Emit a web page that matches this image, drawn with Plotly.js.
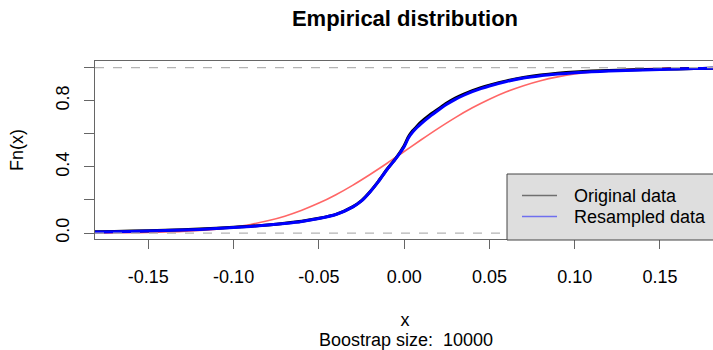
<!DOCTYPE html>
<html>
<head>
<meta charset="utf-8">
<script src="https://cdn.plot.ly/plotly-3.0.1.min.js"></script>
<style>
html,body{margin:0;padding:0;overflow:hidden;background:#fff;}
#chart{width:720px;height:350px;}
</style>
</head>
<body>
<div id="chart"></div>
<script>
// Fitted normal CDF (red)
const normX = [-0.19,-0.18,-0.17,-0.16,-0.15,-0.14,-0.13,-0.12,-0.11,-0.10,-0.09,-0.08,-0.07,-0.06,-0.05,-0.04,-0.03,-0.02,-0.01,0.00,0.01,0.02,0.03,0.04,0.05,0.06,0.07,0.08,0.09,0.10,0.11,0.12,0.13,0.14,0.15,0.16,0.17,0.18,0.19];
const normY = [0.0003,0.0006,0.0011,0.002,0.0035,0.0059,0.0096,0.0154,0.0238,0.0357,0.052,0.074,0.102,0.138,0.181,0.232,0.290,0.354,0.422,0.493,0.564,0.633,0.698,0.757,0.809,0.854,0.891,0.921,0.944,0.961,0.974,0.983,0.989,0.9935,0.996,0.9977,0.9987,0.9993,0.9996];

// Original data ECDF (black)
const origX = [-0.19,-0.18,-0.16,-0.14,-0.12,-0.10,-0.09,-0.08,-0.07,-0.06,-0.05,-0.04,-0.03,-0.025,-0.02,-0.015,-0.01,-0.005,0.0,0.0025,0.005,0.0075,0.01,0.015,0.02,0.025,0.03,0.035,0.04,0.045,0.05,0.06,0.07,0.08,0.09,0.10,0.11,0.12,0.13,0.14,0.15,0.16,0.17,0.18,0.19];
const origY = [0.007,0.008,0.012,0.017,0.024,0.035,0.041,0.049,0.059,0.071,0.089,0.113,0.160,0.196,0.250,0.314,0.386,0.450,0.528,0.582,0.618,0.646,0.672,0.714,0.750,0.786,0.816,0.840,0.861,0.879,0.894,0.920,0.940,0.955,0.966,0.974,0.980,0.983,0.986,0.988,0.990,0.992,0.994,0.996,0.998];

// Resampled data ECDF (blue)
const resX = [-0.19,-0.18,-0.16,-0.14,-0.12,-0.10,-0.09,-0.08,-0.07,-0.06,-0.05,-0.04,-0.03,-0.025,-0.02,-0.015,-0.01,-0.005,0.0,0.0025,0.005,0.0075,0.01,0.015,0.02,0.025,0.03,0.035,0.04,0.045,0.05,0.06,0.07,0.08,0.09,0.10,0.11,0.12,0.13,0.14,0.15,0.16,0.17,0.18,0.19];
const resY = [0.006,0.007,0.010,0.015,0.022,0.033,0.040,0.048,0.058,0.070,0.088,0.112,0.158,0.194,0.248,0.312,0.384,0.448,0.522,0.575,0.610,0.638,0.662,0.704,0.742,0.778,0.808,0.833,0.855,0.873,0.889,0.916,0.937,0.951,0.961,0.969,0.975,0.979,0.982,0.985,0.988,0.991,0.994,0.996,0.998];

const yTickVals = [0,0.2,0.4,0.6,0.8,1.0];
const yTickText = ["0.0","","0.4","","0.8",""];
const xTickVals = [-0.15,-0.10,-0.05,0.00,0.05,0.10,0.15];
const xTickText = ["-0.15","-0.10","-0.05","0.00","0.05","0.10","0.15"];
const legendLabels = ["Original data","Resampled data"];

const FONT = "Liberation Sans, Arial, sans-serif";

const traces = [
  {x: normX, y: normY, type:'scatter', mode:'lines', line:{color:'rgba(255,0,0,0.6)', width:1.6, shape:'spline'}, showlegend:false, hoverinfo:'skip'},
  {x: origX, y: origY, type:'scatter', mode:'lines', line:{color:'#000000', width:3, shape:'spline', smoothing:0.6}, showlegend:false, hoverinfo:'skip'},
  {x: resX, y: resY, type:'scatter', mode:'lines', line:{color:'#0000ff', width:3, shape:'spline', smoothing:0.6}, showlegend:false, hoverinfo:'skip'}
];

const W = 720, H = 350, ML = 95, MR = 5, MT = 61, MB = 111;
const pw = W - ML - MR, ph = H - MT - MB;
function px(x){ return (x - ML) / pw; }
function py(y){ return (H - MB - y) / ph; }

const shapes = [
  {type:'line', xref:'paper', yref:'y', x0:0, x1:1, y0:0, y1:0, line:{color:'#b4b4b4', width:1.3, dash:'dash'}},
  {type:'line', xref:'paper', yref:'y', x0:0, x1:1, y0:1, y1:1, line:{color:'#b4b4b4', width:1.3, dash:'dash'}},
  // legend box
  {type:'rect', xref:'paper', yref:'paper', x0:px(507), x1:px(730), y0:py(240), y1:py(174), fillcolor:'#dedede', line:{color:'#444', width:1}, layer:'above'},
  {type:'line', xref:'paper', yref:'paper', x0:px(522), x1:px(557), y0:py(195.5), y1:py(195.5), line:{color:'rgba(0,0,0,0.5)', width:1.6}, layer:'above'},
  {type:'line', xref:'paper', yref:'paper', x0:px(522), x1:px(557), y0:py(216.5), y1:py(216.5), line:{color:'rgba(0,0,255,0.5)', width:1.6}, layer:'above'}
];

const annotations = [
  {text: legendLabels[0], xref:'paper', yref:'paper', x:px(572), y:py(196), xanchor:'left', yanchor:'middle', showarrow:false, font:{family:FONT, size:18, color:'#000'}},
  {text: legendLabels[1], xref:'paper', yref:'paper', x:px(572), y:py(217), xanchor:'left', yanchor:'middle', showarrow:false, font:{family:FONT, size:18, color:'#000'}},
  {text: 'Boostrap size:  10000', xref:'paper', yref:'paper', x:px(406), y:py(340), xanchor:'center', yanchor:'middle', showarrow:false, font:{family:FONT, size:18, color:'#000'}}
];

const layout = {
  width: W, height: H,
  margin: {l:ML, r:MR, t:MT, b:MB, pad:0},
  paper_bgcolor:'#fff', plot_bgcolor:'#fff',
  font: {family: FONT, size: 18, color:'#000'},
  title: {text:'<b>Empirical distribution</b>', xref:'paper', x:0.5, xanchor:'center', yref:'container', y:1-18/H, yanchor:'middle', font:{family:FONT, size:22, color:'#000'}},
  xaxis: {
    range:[-0.1813, 0.1823], tickvals:xTickVals, ticktext:xTickText,
    ticks:'outside', ticklen:9, tickcolor:'#666', tickwidth:1,
    showline:true, mirror:true, linecolor:'#666', linewidth:1,
    showgrid:false, zeroline:false, ticklabelstandoff:12,
    title:{text:'x', standoff:27, font:{size:18}}
  },
  yaxis: {
    range:[-0.036, 1.04], tickvals:yTickVals, ticktext:yTickText, tickangle:-90,
    ticks:'outside', ticklen:10, tickcolor:'#666', tickwidth:1,
    showline:true, mirror:true, linecolor:'#666', linewidth:1,
    showgrid:false, zeroline:false, ticklabelstandoff:8,
    title:{text:'Fn(x)', standoff:24, font:{size:18}}
  },
  shapes: shapes,
  annotations: annotations,
  showlegend:false
};

Plotly.newPlot('chart', traces, layout, {displayModeBar:false, staticPlot:true});
</script>
</body>
</html>
